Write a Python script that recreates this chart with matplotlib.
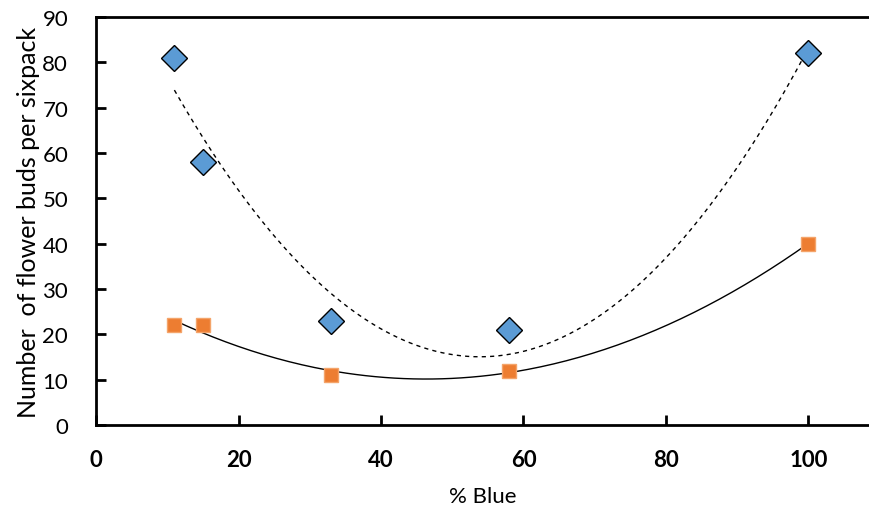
import numpy as np
import matplotlib.pyplot as plt

plt.rcParams['font.family'] = ['Lato', 'DejaVu Sans']

pct_blue = [11, 15, 33, 58, 100]
buds_blue = [81, 58, 23, 21, 82]
buds_orange = [22, 22, 11, 12, 40]

fig = plt.figure(figsize=(8.69, 5.10), dpi=100)
ax = fig.add_axes([0.1105, 0.1647, 0.8895, 0.80])

# quadratic trendlines, like excel
xs = np.linspace(min(pct_blue), max(pct_blue), 200)
pb = np.polyfit(pct_blue, buds_blue, 2)
po = np.polyfit(pct_blue, buds_orange, 2)
ax.plot(xs, np.polyval(pb, xs), color='black', lw=1, ls=(0, (3, 3)), zorder=2)
ax.plot(xs, np.polyval(po, xs), color='black', lw=1, zorder=2)

ax.plot(pct_blue, buds_blue, 'D', ms=13.5, mfc='#5B9BD5', mec='black', mew=1, zorder=3)
ax.plot(pct_blue, buds_orange, 's', ms=10.5, mfc='#ED7D31', mec='#F4A46A', mew=1, zorder=3)

ax.set_xlim(0, 108.5)
ax.set_ylim(0, 90)
ax.set_xticks(range(0, 101, 20))
ax.set_yticks(range(0, 91, 10))
ax.spines['right'].set_visible(False)
for s in ['left', 'bottom', 'top']:
    ax.spines[s].set_linewidth(2)
ax.tick_params(axis='x', direction='in', length=7, width=2, labelsize=16, pad=17)
ax.tick_params(axis='y', direction='in', length=7, width=2, labelsize=16, pad=20)
for lab in ax.get_xticklabels():
    lab.set_fontweight('bold')

ax.set_xlabel('% Blue', fontsize=16, labelpad=12)
ax.set_ylabel('Number  of flower buds per sixpack', fontsize=18, labelpad=2)

fig.savefig('out.png', dpi=100)
